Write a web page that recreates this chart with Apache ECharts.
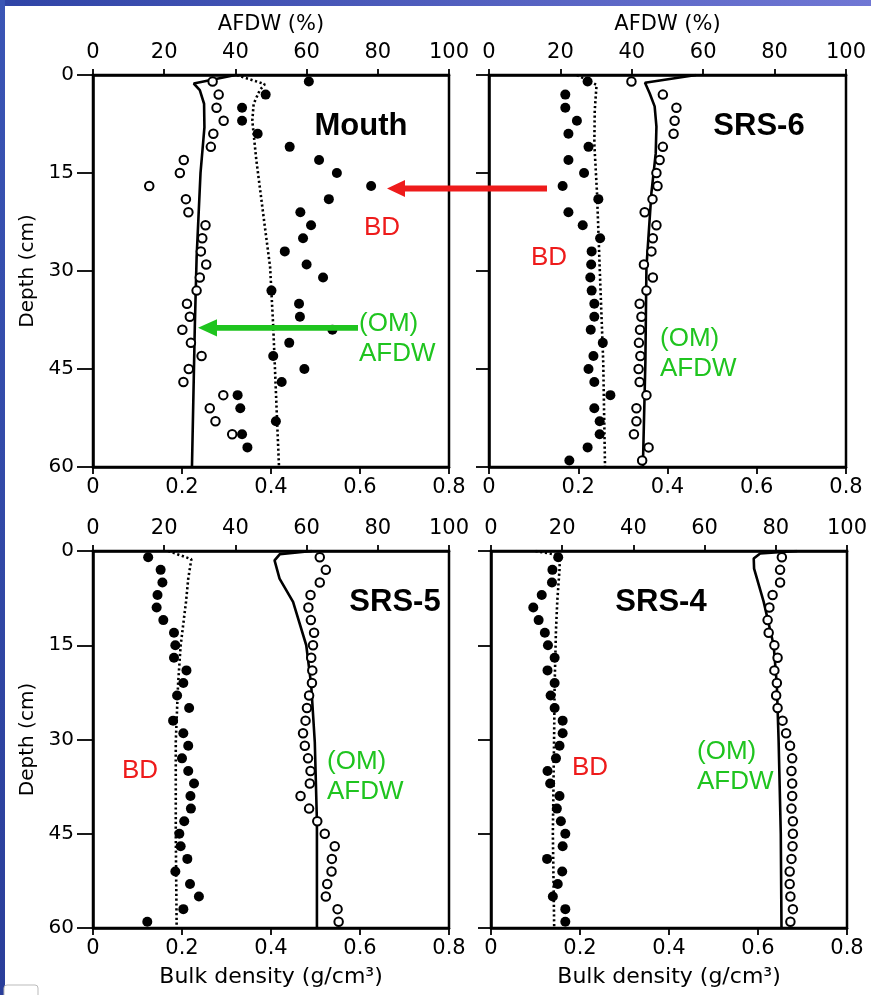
<!DOCTYPE html>
<html><head><meta charset="utf-8">
<script src="https://cdn.jsdelivr.net/npm/echarts@6/dist/echarts.min.js"></script>
<style>html,body{margin:0;padding:0;background:#fff}#c{width:871px;height:995px}</style>
</head><body><div id="c"></div><script>
// ---------- data ----------
const panelNames = ['Mouth', 'SRS-6', 'SRS-5', 'SRS-4'];
const depthTicks = [0, 15, 30, 45, 60];
const afdwTicks = [0, 20, 40, 60, 80, 100];
const bdTicks = [0, 0.2, 0.4, 0.6, 0.8];
const sampleDepths = [1,3,5,7,9,11,13,15,17,19,21,23,25,27,29,31,33,35,37,39,41,43,45,47,49,51,53,55,57,59];

// Mouth
const omMouth = [33.6,35.3,34.7,36.7,33.8,33.1,25.5,24.4,15.8,26.1,26.8,31.6,30.7,30.3,31.8,30.0,29.1,26.4,27.2,25.1,27.5,30.5,26.9,25.4,36.6,32.8,34.4,39.1];
const bdMouth = [0.485,0.388,0.335,0.335,0.370,0.442,0.508,0.548,0.625,0.530,0.466,0.490,0.472,0.431,0.480,0.517,0.401,0.463,0.465,0.538,0.441,0.405,0.475,0.424,0.325,0.331,0.411,0.335,0.347];
const omLineMouthDepth = [0, 1.3, 2.3, 4.4, 8, 15, 28, 38.5, 60];
const omLineMouth = [40, 28.3, 30.0, 31.2, 31.3, 30.2, 29.1, 28.6, 27.8];
const bdLineMouthDepth = [0, 1.4, 2.3, 4.4, 7, 11, 13, 21, 29.4, 38.5, 60];
const bdLineMouth = [0.323, 0.386, 0.375, 0.361, 0.358, 0.364, 0.367, 0.382, 0.398, 0.405, 0.418];

// SRS-6
const omSRS6 = [39.9,48.7,52.5,52.0,51.7,48.7,47.8,46.9,47.2,45.8,43.6,46.9,45.9,45.5,43.4,45.9,44.1,42.2,42.7,42.3,42.0,42.4,41.9,42.2,44.1,41.3,41.3,40.6,44.7,42.9];
const bdSRS6 = [0.221,0.171,0.171,0.197,0.178,0.223,0.178,0.213,0.165,0.245,0.178,0.210,0.249,0.230,0.229,0.227,0.230,0.236,0.236,0.228,0.255,0.234,0.223,0.236,0.272,0.236,0.248,0.248,0.221,0.180];
const omLineSRS6Depth = [0, 1.2, 2.8, 4.8, 7.9, 12, 18, 29.4, 44, 60];
const omLineSRS6 = [58, 43.7, 45.0, 46.4, 46.9, 46.7, 45.5, 44.1, 43.8, 43.1];
const bdLineSRS6Depth = [0, 1.5, 5.4, 10.5, 18, 29.4, 44, 60];
const bdLineSRS6 = [0.197, 0.241, 0.237, 0.236, 0.242, 0.248, 0.256, 0.260];

// SRS-5
const omSRS5 = [63.7,65.4,63.7,61.1,60.5,61.2,62.1,61.8,61.3,61.6,61.5,60.7,60.1,59.7,59.0,59.5,60.4,61.1,60.9,58.3,60.7,63.0,65.1,67.9,67.1,67.0,65.8,65.4,68.7,69.0];
const bdSRS5 = [0.124,0.152,0.156,0.145,0.143,0.158,0.182,0.185,0.182,0.210,0.203,0.189,0.216,0.180,0.203,0.214,0.200,0.214,0.227,0.219,0.220,0.205,0.194,0.197,0.212,0.185,0.218,0.238,0.203,0.122];
const omLineSRS5Depth = [0, 0.5, 1.5, 4.4, 8.1, 15, 21.4, 30.4, 43, 60];
const omLineSRS5 = [61.5, 52.5, 51.0, 52.4, 56.2, 59.9, 61.3, 62.3, 62.9, 62.9];
const bdLineSRS5Depth = [0, 1.3, 4.4, 8.1, 15, 21.4, 30.4, 45, 60];
const bdLineSRS5 = [0.169, 0.221, 0.214, 0.209, 0.197, 0.191, 0.186, 0.186, 0.188];

// SRS-4
const omSRS4 = [81.7,81.2,81.2,79.1,78.2,77.7,78.0,79.6,80.5,79.6,80.3,80.1,80.5,81.9,82.9,84.0,84.6,84.4,84.6,84.6,84.4,84.8,84.8,84.7,84.4,83.9,83.9,84.1,84.8,84.1];
const bdSRS4 = [0.151,0.138,0.137,0.114,0.095,0.107,0.121,0.128,0.143,0.127,0.143,0.134,0.143,0.161,0.161,0.154,0.146,0.127,0.133,0.154,0.148,0.157,0.167,0.161,0.126,0.160,0.150,0.139,0.167,0.167];
const omLineSRS4Depth = [0, 0.4, 1.2, 2.8, 8.1, 15, 21.4, 30.4, 45, 60];
const omLineSRS4 = [86, 75.6, 73.8, 73.9, 76.6, 79.4, 80.3, 80.8, 81.4, 81.6];
const bdLineSRS4Depth = [0, 0.7, 2.9, 7.9, 12.6, 21.4, 28.5, 45, 60];
const bdLineSRS4 = [0.10, 0.155, 0.154, 0.149, 0.146, 0.143, 0.142, 0.139, 0.142];

// ---------- build ----------
const panels = [
  {om: omMouth, bd: bdMouth, omL: omLineMouth, omLD: omLineMouthDepth, bdL: bdLineMouth, bdLD: bdLineMouthDepth},
  {om: omSRS6, bd: bdSRS6, omL: omLineSRS6, omLD: omLineSRS6Depth, bdL: bdLineSRS6, bdLD: bdLineSRS6Depth},
  {om: omSRS5, bd: bdSRS5, omL: omLineSRS5, omLD: omLineSRS5Depth, bdL: bdLineSRS5, bdLD: bdLineSRS5Depth},
  {om: omSRS4, bd: bdSRS4, omL: omLineSRS4, omLD: omLineSRS4Depth, bdL: bdLineSRS4, bdLD: bdLineSRS4Depth}
];
const zip = (vals, depths) => vals.map((v, i) => [v, depths[i]]);

const grids = [
  {left: 93, top: 75, width: 356, height: 392},
  {left: 489, top: 75, width: 357, height: 392},
  {left: 93, top: 551, width: 356, height: 377},
  {left: 491, top: 551, width: 356, height: 377}
].map(g => Object.assign(g, {show: true, borderColor: '#000', borderWidth: 2.5, containLabel: false}));

const FONT = 'DejaVu Sans';
const xAxes = [], yAxes = [], series = [];
panels.forEach((p, i) => {
  const isTop = i < 2, isLeft = (i % 2) === 0;
  xAxes.push({
    type: 'value', gridIndex: i, position: 'top', min: afdwTicks[0], max: afdwTicks[afdwTicks.length - 1], interval: afdwTicks[1] - afdwTicks[0],
    name: isTop ? 'AFDW (%)' : '', nameLocation: 'middle', nameGap: 40,
    nameTextStyle: {fontFamily: FONT, fontSize: 21, color: '#000'},
    axisLine: {show: true, onZero: false, lineStyle: {color: '#000', width: 2.5}},
    axisTick: {show: true, length: 6, lineStyle: {color: '#000', width: 1.8}},
    axisLabel: {margin: 12, fontFamily: FONT, fontSize: 21, color: '#000'},
    splitLine: {show: false}
  });
  xAxes.push({
    type: 'value', gridIndex: i, position: 'bottom', min: bdTicks[0], max: bdTicks[bdTicks.length - 1], interval: 0.2,
    name: isTop ? '' : 'Bulk density (g/cm³)', nameLocation: 'middle', nameGap: 38,
    nameTextStyle: {fontFamily: FONT, fontSize: 22, color: '#000'},
    axisLine: {show: true, onZero: false, lineStyle: {color: '#000', width: 2.5}},
    axisTick: {show: true, length: 7, lineStyle: {color: '#000', width: 1.8}},
    axisLabel: {margin: 10, fontFamily: FONT, fontSize: 21, color: '#000', formatter: v => v === 0 ? '0' : v.toFixed(1)},
    splitLine: {show: false}
  });
  yAxes.push({
    type: 'value', gridIndex: i, min: depthTicks[0], max: depthTicks[depthTicks.length - 1], interval: 15, inverse: true,
    name: isLeft ? 'Depth (cm)' : '', nameLocation: 'middle', nameGap: 55,
    nameTextStyle: {fontFamily: FONT, fontSize: 20, color: '#000'},
    axisLine: {show: true, onZero: false, lineStyle: {color: '#000', width: 2.5}},
    axisTick: {show: true, length: isLeft ? 16 : 13, lineStyle: {color: '#000', width: 1.8}},
    axisLabel: {show: isLeft, margin: 19, fontFamily: FONT, fontSize: 20, color: '#000'},
    splitLine: {show: false}
  });
  series.push({
    type: 'line', xAxisIndex: 2 * i, yAxisIndex: i, data: zip(p.omL, p.omLD), symbol: 'none',
    lineStyle: {color: '#000', width: 2.6, opacity: 1}, z: 2, silent: true
  });
  series.push({
    type: 'line', xAxisIndex: 2 * i + 1, yAxisIndex: i, data: zip(p.bdL, p.bdLD), symbol: 'none',
    lineStyle: {color: '#000', width: 2.6, opacity: 1, type: [2.2, 2.6]}, z: 2, silent: true
  });
  series.push({
    type: 'scatter', xAxisIndex: 2 * i, yAxisIndex: i, data: zip(p.om, sampleDepths), symbol: 'circle', symbolSize: 8.5,
    itemStyle: {color: '#fff', borderColor: '#000', borderWidth: 2, opacity: 1}, z: 3
  });
  series.push({
    type: 'scatter', xAxisIndex: 2 * i + 1, yAxisIndex: i, data: zip(p.bd, sampleDepths), symbol: 'circle', symbolSize: 10,
    itemStyle: {color: '#000', opacity: 1}, z: 4
  });
});

// ---------- annotations ----------
const RED = '#ee1b1b', GREEN = '#1fc41f';
const titleText = (txt, x, y) => ({type: 'text', x: x, y: y, style: {text: txt, font: 'bold 31px "Liberation Sans"', fill: '#000', textAlign: 'center', textVerticalAlign: 'middle'}});
const colText = (txt, x, y, color, align) => ({type: 'text', x: x, y: y, style: {text: txt, font: '26px "Liberation Sans"', fill: color, textAlign: align || 'center', textVerticalAlign: 'middle', lineHeight: 30}});
const graphic = [
  {type: 'rect', shape: {x: 0, y: 0, width: 871, height: 6}, style: {fill: new echarts.graphic.LinearGradient(0, 0, 1, 0, [{offset: 0, color: '#2f44a6'}, {offset: 1, color: '#7077d4'}])}, silent: true},
  {type: 'rect', shape: {x: 0, y: 0, width: 5, height: 995}, style: {fill: new echarts.graphic.LinearGradient(0, 0, 0, 1, [{offset: 0, color: '#3a55b5'}, {offset: 1, color: '#2a3e9a'}])}, silent: true},
  {type: 'rect', shape: {x: 4, y: 985, width: 34, height: 14, r: 3}, style: {fill: '#fff', stroke: '#bbb', lineWidth: 1}, silent: true},
  titleText(panelNames[0], 361, 126),
  titleText(panelNames[1], 759, 126),
  titleText(panelNames[2], 395, 602),
  titleText(panelNames[3], 661, 602),
  colText('BD', 382, 228, RED),
  colText('BD', 549, 258, RED),
  colText('BD', 140, 771, RED),
  colText('BD', 590, 768, RED),
  colText('(OM)\nAFDW', 359, 339, GREEN, 'left'),
  colText('(OM)\nAFDW', 660, 354, GREEN, 'left'),
  colText('(OM)\nAFDW', 327, 777, GREEN, 'left'),
  colText('(OM)\nAFDW', 697, 767, GREEN, 'left'),
  {type: 'polygon', shape: {points: [[387,188.5],[405,180],[405,185.5],[547,185.5],[547,191.5],[405,191.5],[405,197]]}, style: {fill: RED}, z: 10},
  {type: 'polygon', shape: {points: [[198,327.8],[217,319.2],[217,325],[358,325],[358,330.7],[217,330.7],[217,336.4]]}, style: {fill: GREEN}, z: 10}
];

const chart = echarts.init(document.getElementById('c'), null, {renderer: 'canvas'});
chart.setOption({
  animation: false,
  backgroundColor: '#fff',
  grid: grids,
  xAxis: xAxes,
  yAxis: yAxes,
  series: series,
  graphic: graphic
});
</script></body></html>
